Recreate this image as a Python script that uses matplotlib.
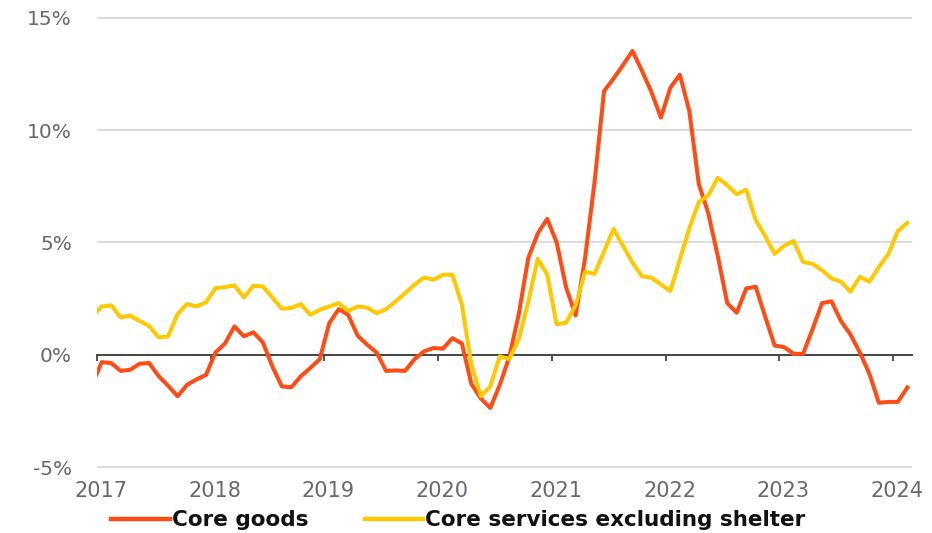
import numpy as np
import matplotlib
matplotlib.use("Agg")
import matplotlib.pyplot as plt
import matplotlib.transforms as mtransforms
from matplotlib.lines import Line2D

# monthly year-over-year change, %, Dec 2016 .. Feb 2024 (plotted mid-month)
core_goods = [
    -1.31, -0.33, -0.37, -0.72, -0.67, -0.40, -0.37, -0.95, -1.38, -1.85,
    -1.34, -1.10, -0.90, 0.10, 0.50, 1.26, 0.82, 1.00, 0.55, -0.52,
    -1.41, -1.45, -0.96, -0.59, -0.20, 1.40, 2.03, 1.78, 0.85, 0.45,
    0.10, -0.72, -0.70, -0.72, -0.20, 0.15, 0.30, 0.27, 0.74, 0.50,
    -1.30, -1.95, -2.37, -1.34, -0.10, 1.80, 4.30, 5.40, 6.05, 5.00,
    3.00, 1.75, 4.30, 7.70, 11.74, 12.30, 12.90, 13.53, 12.65, 11.70,
    10.56, 11.90, 12.47, 10.85, 7.60, 6.30, 4.40, 2.30, 1.87, 2.95,
    3.03, 1.70, 0.41, 0.34, 0.04, 0.04, 1.14, 2.30, 2.38, 1.50,
    0.90, 0.10, -0.85, -2.14, -2.10, -2.10, -1.46,
]
core_services_ex_shelter = [
    1.71, 2.15, 2.20, 1.66, 1.74, 1.50, 1.28, 0.77, 0.82, 1.81,
    2.26, 2.15, 2.34, 2.97, 3.01, 3.09, 2.55, 3.07, 3.04, 2.55,
    2.05, 2.08, 2.26, 1.78, 2.00, 2.15, 2.30, 1.95, 2.15, 2.10,
    1.85, 2.03, 2.37, 2.74, 3.12, 3.44, 3.34, 3.56, 3.56, 2.23,
    -0.45, -1.85, -1.41, -0.07, -0.20, 0.70, 2.35, 4.27, 3.57, 1.35,
    1.43, 2.20, 3.70, 3.60, 4.60, 5.60, 4.85, 4.10, 3.50, 3.43,
    3.13, 2.84, 4.24, 5.63, 6.81, 7.10, 7.88, 7.55, 7.15, 7.35,
    6.00, 5.29, 4.49, 4.85, 5.07, 4.13, 4.05, 3.76, 3.40, 3.25,
    2.81, 3.47, 3.25, 3.91, 4.49, 5.51, 5.87,
]
years = [2017, 2018, 2019, 2020, 2021, 2022, 2023, 2024]
y_ticks = [-5, 0, 5, 10, 15]

RED = "#ff4b14"
YELLOW = "#ffc800"
LABEL_GRAY = "#666a70"

x = 2017 + (np.arange(len(core_goods)) - 0.5) / 12

fig = plt.figure(figsize=(9.32, 5.33), dpi=100)
ax = fig.add_axes([0.1041, 0.1154, 0.8745, 0.8593])

ax.plot(x, core_goods, color=RED, lw=2.9, solid_joinstyle="round", zorder=3)
ax.plot(x, core_services_ex_shelter, color=YELLOW, lw=2.9,
        solid_joinstyle="round", zorder=4)

ax.set_xlim(2017, 2017 + 86 / 12)
ax.set_ylim(-5.2, 15.2)

for s in ax.spines.values():
    s.set_visible(False)

for v in y_ticks:
    if v != 0:
        ax.axhline(v, color="#dcdcdc", lw=1.4, zorder=1)

ax.set_yticks(y_ticks)
ax.set_yticklabels([f"{v}%" for v in y_ticks], fontsize=14.5,
                   color=LABEL_GRAY, family="DejaVu Sans")

ax.set_xticks(years)
ax.set_xticklabels([str(y) for y in years], fontsize=15,
                   color=LABEL_GRAY, family="DejaVu Sans")

# zero line with year ticks
zero_loc = (0 - ax.get_ylim()[0]) / (ax.get_ylim()[1] - ax.get_ylim()[0])
zx = ax.secondary_xaxis(zero_loc)
zx.set_xticks(years)
zx.set_xticklabels([])
zx.tick_params(axis="x", direction="out", length=4, width=1.3, color="#444444")
zx.spines["bottom"].set_color("#444444")
zx.spines["bottom"].set_linewidth(1.4)
zx.set_zorder(2)

ax.tick_params(axis="x", length=0, pad=7)
ax.tick_params(axis="y", length=0, pad=18)

# year labels sit a little right of their ticks
shift = mtransforms.ScaledTranslation(4 / 100, 0, fig.dpi_scale_trans)
for lbl in ax.get_xticklabels():
    lbl.set_transform(lbl.get_transform() + shift)

handles = [Line2D([], [], color=RED, lw=3.2),
           Line2D([], [], color=YELLOW, lw=3.2)]
fig.legend(handles, ["Core goods", "Core services excluding shelter"],
           loc="center", bbox_to_anchor=(0.492, 0.024), ncol=2, frameon=False,
           prop={"family": "DejaVu Sans", "weight": "bold", "size": 15.5},
           handlelength=2.7, handletextpad=0.12, columnspacing=2.6,
           labelcolor="#111111")

fig.savefig("out.png", dpi=100)
